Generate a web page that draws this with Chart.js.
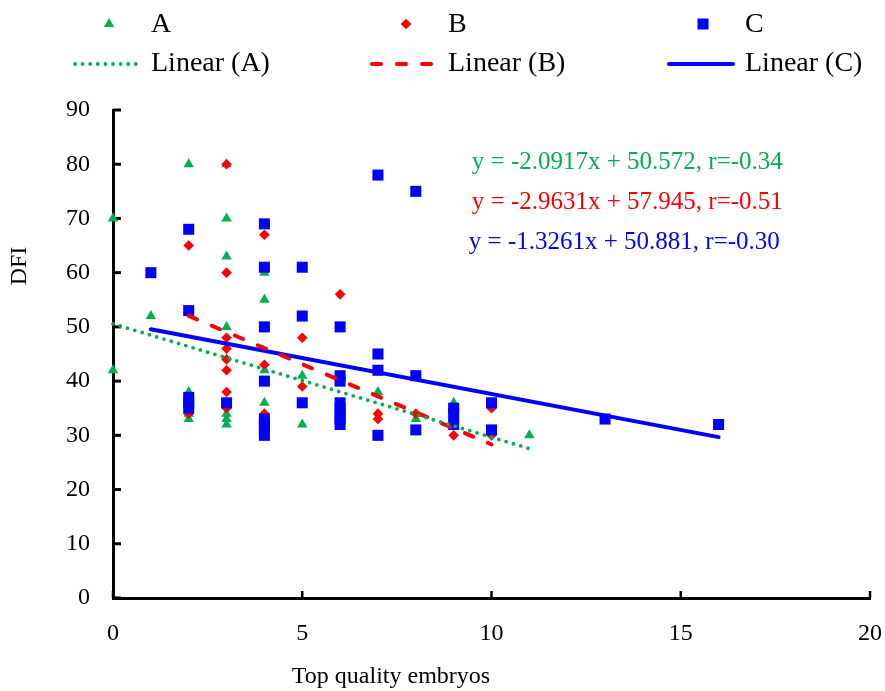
<!DOCTYPE html>
<html>
<head>
<meta charset="utf-8">
<script src="https://cdn.jsdelivr.net/npm/chart.js@4.4.0/dist/chart.umd.min.js"></script>
<style>
  body { margin: 0; background: #fff; }
  canvas { display: block; }
</style>
</head>
<body>
<canvas id="chart" width="885" height="691"></canvas>
<script>
// Group A: top quality embryos (x) vs DFI (y)
const groupAx = [0, 0, 1, 2, 2, 2, 2, 3, 3, 3, 3, 3, 3, 3, 4, 4, 4, 4, 5, 5, 7, 8, 9, 11];
const groupAy = [70, 42, 52, 80, 38, 34, 33, 80, 70, 63, 50, 34, 33, 32, 60, 55, 42, 36, 41, 32, 38, 33, 36, 30];

// Group B
const groupBx = [2, 2, 3, 3, 3, 3, 3, 3, 3, 3, 4, 4, 4, 5, 5, 6, 7, 7, 8, 9, 10, 10];
const groupBy = [65, 34, 80, 60, 48, 46, 44, 42, 38, 35, 67, 43, 34, 48, 39, 56, 34, 33, 34, 30, 35, 30];

// Group C
const groupCx = [1, 2, 2, 2, 2, 2, 3, 4, 4, 4, 4, 4, 4, 4, 4, 5, 5, 5, 6, 6, 6, 6, 6, 6, 6, 6,
                 7, 7, 7, 7, 8, 8, 8, 9, 9, 9, 10, 10, 13, 16];
const groupCy = [60, 68, 53, 37, 36, 35, 36, 69, 61, 50, 40, 33, 32, 31, 30, 61, 52, 36, 50, 41, 40, 36, 35, 34, 33, 32,
                 78, 45, 42, 30, 75, 41, 31, 35, 34, 32, 36, 31, 33, 32];

// Linear fits: slope, intercept, r and the x span each trend line covers
const groups = ['A', 'B', 'C'];
const fitSlope = [-2.0917, -2.9631, -1.3261];
const fitIntercept = [50.572, 57.945, 50.881];
const fitR = [-0.34, -0.51, -0.30];
const fitFrom = [0, 2, 1];
const fitTo = [11, 10, 16];

const xTicks = [0, 5, 10, 15, 20];
const yTicks = [0, 10, 20, 30, 40, 50, 60, 70, 80, 90];

const colors = ['#00B050', '#FF0000', '#0000FF'];
const FONT = "'Liberation Serif', 'Times New Roman', serif";

const toPoints = (xs, ys) => xs.map((x, i) => ({ x: x, y: ys[i] }));
const fitLine = (i) => [fitFrom[i], fitTo[i]].map(x => ({ x: x, y: fitSlope[i] * x + fitIntercept[i] }));

const pointSets = [toPoints(groupAx, groupAy), toPoints(groupBx, groupBy), toPoints(groupCx, groupCy)];
const markerStyle = [
    { pointStyle: 'triangle', pointRadius: 6 },
    { pointStyle: 'rectRot', pointRadius: 5.3 },
    { pointStyle: 'rect', pointRadius: 7.8 },
];
const lineStyle = [
    { borderWidth: 3.8, borderDash: [0, 7.6], borderCapStyle: 'round' },
    { borderWidth: 4, borderDash: [9, 16], borderCapStyle: 'round' },
    { borderWidth: 4, borderDash: [], borderCapStyle: 'round' },
];

const datasets = [];
groups.forEach((g, i) => {
    datasets.push({
        type: 'scatter',
        label: g,
        data: pointSets[i],
        backgroundColor: colors[i],
        borderColor: colors[i],
        pointBorderWidth: 0,
        pointStyle: markerStyle[i].pointStyle,
        pointRadius: markerStyle[i].pointRadius,
        pointHoverRadius: markerStyle[i].pointRadius,
        clip: false,
        order: 4 - i,
    });
});
groups.forEach((g, i) => {
    datasets.push({
        type: 'line',
        label: 'Linear (' + g + ')',
        data: fitLine(i),
        borderColor: colors[i],
        borderWidth: lineStyle[i].borderWidth,
        borderDash: lineStyle[i].borderDash,
        borderCapStyle: lineStyle[i].borderCapStyle,
        pointRadius: 0,
        fill: false,
        clip: false,
        order: 0,
    });
});

// Inward tick marks on both axes
const innerTicks = {
    id: 'innerTicks',
    beforeDatasetsDraw(chart) {
        const { ctx, chartArea, scales } = chart;
        ctx.save();
        ctx.strokeStyle = '#000';
        ctx.lineWidth = 2.5;
        xTicks.forEach(v => {
            const px = scales.x.getPixelForValue(v);
            ctx.beginPath();
            ctx.moveTo(px, chartArea.bottom);
            ctx.lineTo(px, chartArea.bottom - 7);
            ctx.stroke();
        });
        ctx.lineWidth = 3;
        yTicks.forEach(v => {
            const py = scales.y.getPixelForValue(v);
            ctx.beginPath();
            ctx.moveTo(chartArea.left, py);
            ctx.lineTo(chartArea.left + 8, py);
            ctx.stroke();
        });
        ctx.restore();
    }
};

// Two-row legend, axis titles and the fit equations
const decorations = {
    id: 'decorations',
    afterDraw(chart) {
        const { ctx, scales } = chart;
        const helpers = Chart.helpers;
        ctx.save();

        // legend
        const textX = [151, 448, 745];
        const rowY = [25, 64];
        ctx.font = '28px ' + FONT;
        ctx.textBaseline = 'middle';
        ctx.textAlign = 'left';
        groups.forEach((g, i) => {
            const ds = chart.data.datasets[i];
            const lineDs = chart.data.datasets[i + 3];
            const lineEnd = textX[i] - 10;
            const lineStart = lineEnd - 68;
            const mid = (lineStart + lineEnd) / 2;

            ctx.fillStyle = ds.backgroundColor;
            helpers.drawPoint(ctx, {
                pointStyle: ds.pointStyle, radius: ds.pointRadius, rotation: 0, borderWidth: 0
            }, mid + 2, rowY[0] - 1);

            ctx.strokeStyle = lineDs.borderColor;
            ctx.lineWidth = lineDs.borderWidth;
            ctx.lineCap = lineDs.borderCapStyle;
            ctx.setLineDash(lineDs.borderDash);
            ctx.beginPath();
            ctx.moveTo(lineStart + 2, rowY[1]);
            ctx.lineTo(lineEnd - 2, rowY[1]);
            ctx.stroke();
            ctx.setLineDash([]);

            ctx.fillStyle = '#000';
            ctx.fillText(ds.label, textX[i], rowY[0]);
            ctx.fillText(lineDs.label, textX[i], rowY[1]);
        });

        // fit equations
        ctx.font = '25px ' + FONT;
        const eqX = scales.x.getPixelForValue(9.48);
        const eqY = [80.4, 73.0, 65.5];
        groups.forEach((g, i) => {
            ctx.fillStyle = colors[i];
            const text = 'y = ' + fitSlope[i] + 'x + ' + fitIntercept[i] + ', r=' + fitR[i].toFixed(2);
            ctx.fillText(text, eqX - (i === 2 ? 3 : 0), scales.y.getPixelForValue(eqY[i]));
        });

        // axis titles
        ctx.fillStyle = '#000';
        ctx.font = '24px ' + FONT;
        ctx.textAlign = 'center';
        ctx.textBaseline = 'alphabetic';
        ctx.fillText('Top quality embryos', 391, 683);
        ctx.translate(20, 266);
        ctx.rotate(-Math.PI / 2);
        ctx.textBaseline = 'middle';
        ctx.fillText('DFI', 0, 0);
        ctx.restore();
    }
};

new Chart(document.getElementById('chart'), {
    data: { datasets: datasets },
    options: {
        responsive: false,
        animation: false,
        events: [],
        layout: { padding: { top: 110, right: 15, left: 0, bottom: 0 } },
        plugins: {
            legend: { display: false },
            tooltip: { enabled: false },
        },
        scales: {
            x: {
                type: 'linear',
                min: 0,
                max: 20,
                afterFit(scale) {
                    scale.height = 93;
                    scale.paddingLeft = 0;
                    scale.paddingRight = 0;
                },
                afterBuildTicks(scale) { scale.ticks = xTicks.map(v => ({ value: v })); },
                grid: { display: true, drawOnChartArea: false, drawTicks: false },
                border: { display: true, color: '#000', width: 3 },
                ticks: { color: '#000', padding: 21, font: { family: FONT, size: 24 } },
            },
            y: {
                type: 'linear',
                min: 0,
                max: 90,
                afterFit(scale) {
                    scale.width = 113;
                    scale.paddingTop = 0;
                    scale.paddingBottom = 0;
                },
                afterBuildTicks(scale) { scale.ticks = yTicks.map(v => ({ value: v })); },
                grid: { display: true, drawOnChartArea: false, drawTicks: false },
                border: { display: true, color: '#000', width: 3 },
                ticks: { color: '#000', padding: 23, font: { family: FONT, size: 24 } },
            },
        },
    },
    plugins: [innerTicks, decorations],
});
</script>
</body>
</html>
